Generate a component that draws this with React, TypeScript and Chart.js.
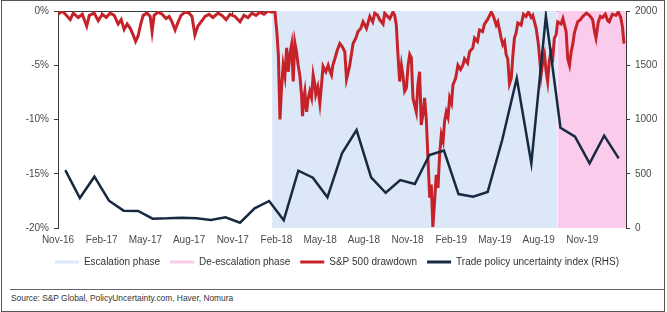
import React, { useEffect, useRef } from 'react';
import { Chart, registerables } from 'chart.js';

Chart.register(...registerables);

// x axis: months since 1 Nov 2016
const tickLabels = ['Nov-16', 'Feb-17', 'May-17', 'Aug-17', 'Nov-17', 'Feb-18', 'May-18', 'Aug-18', 'Nov-18', 'Feb-19', 'May-19', 'Aug-19', 'Nov-19'];
const tickMonths = [0, 3, 6, 9, 12, 15, 18, 21, 24, 27, 30, 33, 36];
const axisStart = 0;
const axisEnd = 39;

// Trade policy uncertainty index (RHS), monthly, plotted mid-month
const tpuMonths = ['Nov-16', 'Dec-16', 'Jan-17', 'Feb-17', 'Mar-17', 'Apr-17', 'May-17', 'Jun-17', 'Jul-17', 'Aug-17', 'Sep-17', 'Oct-17', 'Nov-17', 'Dec-17', 'Jan-18', 'Feb-18', 'Mar-18', 'Apr-18', 'May-18', 'Jun-18', 'Jul-18', 'Aug-18', 'Sep-18', 'Oct-18', 'Nov-18', 'Dec-18', 'Jan-19', 'Feb-19', 'Mar-19', 'Apr-19', 'May-19', 'Jun-19', 'Jul-19', 'Aug-19', 'Sep-19', 'Oct-19', 'Nov-19', 'Dec-19', 'Jan-20'];
const tpuValues = [534, 276, 473, 252, 160, 157, 86, 89, 95, 89, 74, 99, 49, 181, 249, 71, 528, 464, 283, 688, 903, 467, 325, 442, 405, 673, 713, 313, 288, 332, 811, 1380, 596, 1954, 924, 841, 596, 851, 642];

// S&P 500 drawdown (%), position in months since 1 Nov 2016
const spMonths = [0.00, 0.29, 0.57, 0.84, 1.05, 1.39, 1.67, 1.97, 2.15, 2.49, 2.76, 3.04, 3.31, 3.58, 3.86, 4.13, 4.34, 4.54, 4.75, 4.96, 5.16, 5.33, 5.50, 5.68, 5.85, 6.12, 6.33, 6.46, 6.60, 6.87, 7.15, 7.42, 7.63, 7.83, 8.04, 8.25, 8.45, 8.73, 9.00, 9.20, 9.40, 9.60, 9.82, 10.10, 10.37, 10.64, 10.99, 11.26, 11.54, 11.81, 12.15, 12.50, 12.77, 13.04, 13.32, 13.59, 13.87, 14.14, 14.41, 14.69, 14.89, 15.03, 15.13, 15.24, 15.35, 15.46, 15.58, 15.70, 15.81, 15.92, 16.04, 16.15, 16.26, 16.38, 16.49, 16.61, 16.72, 16.79, 16.88, 16.95, 17.07, 17.16, 17.29, 17.41, 17.52, 17.64, 17.70, 17.84, 17.98, 18.08, 18.20, 18.39, 18.55, 18.66, 18.78, 18.87, 19.01, 19.18, 19.35, 19.52, 19.69, 19.81, 19.90, 20.03, 20.26, 20.45, 20.60, 20.79, 20.95, 21.18, 21.41, 21.61, 21.75, 21.95, 22.09, 22.32, 22.43, 22.64, 22.78, 23.00, 23.12, 23.23, 23.34, 23.46, 23.58, 23.69, 23.80, 23.92, 24.04, 24.15, 24.26, 24.37, 24.49, 24.60, 24.71, 24.83, 24.94, 25.06, 25.17, 25.29, 25.40, 25.52, 25.63, 25.74, 25.86, 25.97, 26.09, 26.20, 26.32, 26.44, 26.54, 26.66, 26.78, 26.89, 27.02, 27.12, 27.30, 27.46, 27.64, 27.80, 27.91, 28.12, 28.26, 28.48, 28.60, 28.80, 28.94, 29.15, 29.28, 29.49, 29.75, 29.90, 30.09, 30.20, 30.43, 30.54, 30.66, 30.77, 30.88, 31.00, 31.12, 31.24, 31.34, 31.46, 31.57, 31.80, 31.96, 32.14, 32.30, 32.49, 32.60, 32.83, 32.99, 33.17, 33.30, 33.40, 33.51, 33.62, 33.74, 33.86, 33.98, 34.08, 34.20, 34.31, 34.54, 34.67, 34.89, 35.00, 35.12, 35.23, 35.34, 35.46, 35.68, 35.87, 36.03, 36.28, 36.49, 36.71, 36.84, 36.94, 37.10, 37.24, 37.39, 37.58, 37.75, 37.85, 38.06, 38.31, 38.47, 38.64, 38.76, 38.86];
const spDrawdown = [-0.3, 0, -0.4, -0.8, -0.2, -0.6, -0.3, -1.4, -0.4, -0.2, -0.9, -0.3, -0.6, -0.2, -0.4, -1.2, -0.8, -1.7, -1.2, -1.6, -2.2, -2.8, -2.3, -1.2, -0.4, -0.2, -0.5, -1.9, -0.4, -0.1, -0.3, -0.7, -0.5, -1.0, -1.75, -1.0, -0.4, -0.1, -0.2, -0.5, -2.2, -1.4, -1.0, -0.5, -0.3, -0.6, -0.2, -0.4, -0.8, -0.3, -0.5, -1.0, -0.4, -0.6, -0.2, -0.4, -0.1, -0.3, 0, -0.1, 0, -2.0, -4.0, -10.0, -7.1, -5.0, -6.0, -3.4, -5.6, -4.0, -3.1, -6.5, -2.9, -3.8, -5.0, -6.0, -7.7, -9.7, -8.0, -7.4, -9.3, -8.2, -7.4, -8.0, -5.9, -6.8, -7.7, -7.0, -8.5, -7.0, -5.1, -5.6, -5.0, -5.5, -5.9, -5.0, -4.4, -3.6, -3.0, -3.3, -3.75, -6.3, -5.8, -5.0, -3.0, -2.5, -1.9, -1.6, -1.0, -1.6, -0.5, -1.0, -0.2, -0.4, -0.8, -1.2, -0.2, -0.5, -0.7, -0.1, -0.4, -1.3, -4.0, -6.5, -5.0, -6.0, -7.4, -7.1, -5.0, -4.0, -4.3, -8.0, -8.7, -9.3, -6.8, -5.6, -10.5, -9.5, -8.0, -10.0, -13.5, -17.2, -16.0, -19.9, -17.5, -15.1, -16.3, -13.3, -11.4, -12.0, -10.2, -9.3, -9.8, -8.0, -8.5, -6.8, -6.2, -5.0, -5.4, -5.0, -4.4, -4.8, -3.75, -3.4, -2.5, -2.8, -1.75, -1.9, -1.2, -0.8, -0.1, -0.5, -1.3, -1.0, -2.5, -3.1, -2.8, -4.0, -4.4, -6.7, -6.2, -4.0, -2.5, -2.0, -1.1, -1.3, -0.3, -0.5, -0.1, -0.6, -0.4, -1.6, -3.1, -5.9, -4.5, -4.0, -5.5, -6.5, -4.5, -3.75, -4.2, -2.5, -2.2, -1.0, -1.2, -0.7, -1.9, -4.4, -5.0, -3.8, -3.1, -2.0, -1.0, -0.8, -0.5, -0.2, -0.4, -0.8, -1.9, -2.5, -1.0, -0.5, -0.6, -0.3, -0.9, -1.0, -0.3, -0.4, -0.1, -0.6, -1.5, -3.0];

// phases (months since 1 Nov 2016)
const escalationPhase = [14.7, 34.3];
const deescalationPhase = [34.3, 39];

const leftTicks = [-20, -15, -10, -5, 0];
const rightTicks = [0, 500, 1000, 1500, 2000];

const FONT = "'Liberation Sans', Arial, Helvetica, sans-serif";
const C_BLUE = '#dce8f8';
const C_PINK = '#facbea';
const C_RED = '#c62229';
const C_NAVY = '#172a42';
const C_AXIS = '#3a3a3a';
const C_TICK = '#4a4a4a';

export default function App() {
  const ref = useRef<HTMLCanvasElement | null>(null);

  useEffect(() => {
    if (!ref.current) return;
    Chart.defaults.font.family = FONT;
    const legendGen = (Chart.defaults.plugins.legend.labels as any).generateLabels;
    const setTicks = (values: number[]) => (scale: any) => {
      scale.ticks = values.map((v) => ({ value: v }));
    };
    const chart = new Chart(ref.current, {
      type: 'line',
      data: {
        datasets: [
          {
            label: 'Escalation phase',
            data: escalationPhase.map((m) => ({ x: m, y: 0 })),
            backgroundColor: C_BLUE,
            borderColor: C_BLUE,
            borderWidth: 0,
            pointRadius: 0,
            fill: 'start',
            yAxisID: 'y',
            order: 3,
          },
          {
            label: 'De-escalation phase',
            data: deescalationPhase.map((m) => ({ x: m, y: 0 })),
            backgroundColor: C_PINK,
            borderColor: C_PINK,
            borderWidth: 0,
            pointRadius: 0,
            fill: 'start',
            yAxisID: 'y',
            order: 2,
          },
          {
            label: 'S&P 500 drawdown',
            data: spMonths.map((m, i) => ({ x: m, y: spDrawdown[i] })),
            borderColor: C_RED,
            backgroundColor: C_RED,
            borderWidth: 3,
            pointRadius: 0,
            tension: 0,
            fill: false,
            yAxisID: 'y',
            order: 1,
          },
          {
            label: 'Trade policy uncertainty index (RHS)',
            data: tpuMonths.map((_, i) => ({ x: i + 0.5, y: tpuValues[i] })),
            borderColor: C_NAVY,
            backgroundColor: C_NAVY,
            borderWidth: 2.5,
            pointRadius: 0,
            tension: 0,
            fill: false,
            yAxisID: 'y1',
            order: 0,
          },
        ],
      },
      options: {
        responsive: false,
        animation: false,
        events: [],
        layout: { padding: { left: 7, right: 0, top: 11, bottom: 3 } },
        scales: {
          x: {
            type: 'linear',
            position: 'bottom',
            min: axisStart,
            max: axisEnd,
            afterBuildTicks: setTicks(tickMonths),
            afterFit: (s: any) => { s.height = 19; },
            grid: { display: false, drawTicks: false },
            border: { display: false },
            ticks: {
              autoSkip: false,
              maxRotation: 0,
              padding: 6,
              color: C_TICK,
              font: { size: 10, family: FONT },
              callback: (_v: any, i: number) => tickLabels[i],
            },
          },
          x2: {
            type: 'linear',
            position: 'top',
            min: axisStart,
            max: axisEnd,
            afterBuildTicks: setTicks(tickMonths),
            afterFit: (s: any) => { s.height = 0; },
            grid: { drawOnChartArea: false, drawTicks: true, tickLength: -3, color: C_AXIS, lineWidth: 1 },
            border: { display: true, color: C_AXIS, width: 1 },
            ticks: { display: false },
          },
          y: {
            type: 'linear',
            position: 'left',
            min: -20,
            max: 0,
            afterBuildTicks: setTicks(leftTicks),
            afterFit: (s: any) => { s.width = 51; },
            grid: { drawOnChartArea: false, tickLength: 4, color: C_AXIS },
            border: { display: true, color: C_AXIS, width: 1 },
            ticks: {
              padding: 5,
              color: C_TICK,
              font: { size: 10, family: FONT },
              callback: (v: any) => `${v}%`,
            },
          },
          y1: {
            type: 'linear',
            position: 'right',
            min: 0,
            max: 2000,
            afterBuildTicks: setTicks(rightTicks),
            afterFit: (s: any) => { s.width = 41; },
            grid: { drawOnChartArea: false, tickLength: 4, color: C_AXIS },
            border: { display: true, color: C_AXIS, width: 1 },
            ticks: {
              padding: 5,
              color: C_TICK,
              font: { size: 10, family: FONT },
              callback: (v: any) => String(v),
            },
          },
        },
        plugins: {
          tooltip: { enabled: false },
          legend: {
            display: true,
            position: 'bottom',
            labels: {
              boxWidth: 24,
              boxHeight: 3,
              padding: 10,
              color: '#333',
              font: { size: 10, family: FONT },
              sort: (a: any, b: any) => a.datasetIndex - b.datasetIndex,
              generateLabels: (c: any) => legendGen(c).map((l: any) => ({ ...l, lineWidth: 0 })),
            },
          },
        },
      } as any,
    });
    return () => chart.destroy();
  }, []);

  return (
    <div style={{ position: 'fixed', left: 0, top: 0, width: 667, height: 312, background: '#fff', fontFamily: FONT, overflow: 'hidden' }}>
      <canvas ref={ref} width={667} height={280} style={{ position: 'absolute', left: 0, top: 0, display: 'block' }} />
      <div style={{ position: 'absolute', left: 10, top: 289, width: 654, height: 0, borderTop: '1px solid #666' }} />
      <div style={{ position: 'absolute', left: 11, top: 292, fontSize: '8.4px', lineHeight: '12px', color: '#333', whiteSpace: 'nowrap' }}>
        Source: S&amp;P Global, PolicyUncertainty.com, Haver, Nomura
      </div>
      <div style={{ position: 'absolute', left: 1, top: 0, width: 664, height: 312, border: '1px solid #555', boxSizing: 'border-box', pointerEvents: 'none' }} />
    </div>
  );
}
